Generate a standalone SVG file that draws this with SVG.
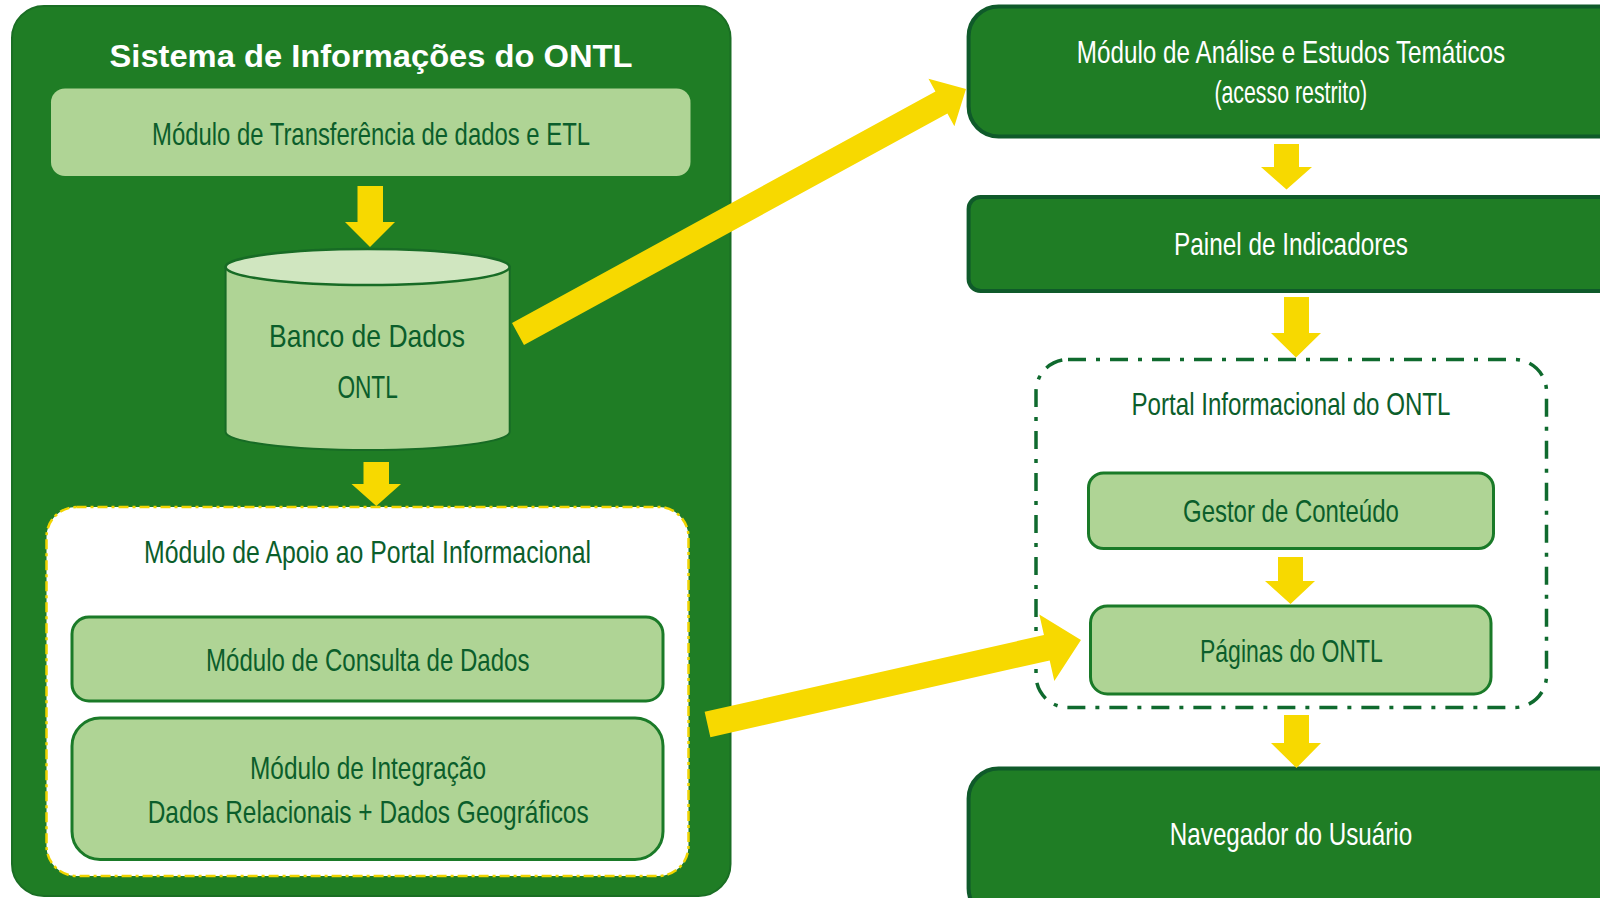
<svg xmlns="http://www.w3.org/2000/svg" width="1600" height="898" viewBox="0 0 1600 898">
<style>
text{font-family:"Liberation Sans",Arial,sans-serif;font-size:32px}
.dk{fill:#0b5e2b}
.wt{fill:#ffffff}
.light{fill:#afd495;stroke:#1a7a28;stroke-width:3}
.dark{fill:#1f7d25;stroke:#0f5a2a;stroke-width:4}
.arrow{fill:#f7d900}
</style>
<rect width="1600" height="898" fill="#ffffff"/>

<g id="sistema">
<rect x="12" y="6" width="718.5" height="890" rx="32" fill="#1f7d25" stroke="#1a6e24" stroke-width="2"/>
<text class="wt" x="109.5" y="66.5" font-size="38" font-weight="bold" textLength="523" lengthAdjust="spacingAndGlyphs">Sistema de Informações do ONTL</text>
</g>

<g id="etl">
<rect x="51" y="88.5" width="639.5" height="87.5" rx="14" fill="#afd495"/>
<text class="dk" x="152" y="145" textLength="438" lengthAdjust="spacingAndGlyphs">Módulo de Transferência de dados e ETL</text>
</g>

<g id="banco">
<path d="M225.6,267 L225.6,432 A142,18 0 0 0 509.7,432 L509.7,267 Z" fill="#afd495" stroke="#176b25" stroke-width="2"/>
<ellipse cx="367.6" cy="267" rx="142" ry="18" fill="#d0e6c0" stroke="#176b25" stroke-width="2.5"/>
<text class="dk" x="269" y="346.7" font-size="35" textLength="196" lengthAdjust="spacingAndGlyphs">Banco de Dados</text>
<text class="dk" x="337.4" y="398.3" font-size="35" textLength="60.4" lengthAdjust="spacingAndGlyphs">ONTL</text>
</g>

<g id="apoio">
<rect x="46.5" y="507" width="642" height="369" rx="30" fill="#ffffff" stroke="#f0d400" stroke-width="2.5" stroke-dasharray="10 4 3 4"/>
<text class="dk" x="144" y="562.7" textLength="447" lengthAdjust="spacingAndGlyphs">Módulo de Apoio ao Portal Informacional</text>
</g>

<g id="consulta">
<rect class="light" x="72" y="617" width="591" height="84" rx="17"/>
<text class="dk" x="206" y="670.7" textLength="323.5" lengthAdjust="spacingAndGlyphs">Módulo de Consulta de Dados</text>
</g>

<g id="integracao">
<rect class="light" x="72" y="718" width="591" height="141.5" rx="28"/>
<text class="dk" x="250" y="779" textLength="236" lengthAdjust="spacingAndGlyphs">Módulo de Integração</text>
<text class="dk" x="147.7" y="823.3" textLength="441" lengthAdjust="spacingAndGlyphs">Dados Relacionais + Dados Geográficos</text>
</g>

<g id="analise">
<rect class="dark" x="968.6" y="6.5" width="660" height="130" rx="30"/>
<text class="wt" x="1076.8" y="63.3" textLength="428.4" lengthAdjust="spacingAndGlyphs">Módulo de Análise e Estudos Temáticos</text>
<text class="wt" x="1214.4" y="103.3" font-size="26" textLength="152.8" lengthAdjust="spacingAndGlyphs">(acesso restrito)</text>
</g>

<g id="painel">
<rect class="dark" x="968.6" y="197" width="660" height="94" rx="12"/>
<text class="wt" x="1174" y="255" textLength="234" lengthAdjust="spacingAndGlyphs">Painel de Indicadores</text>
</g>

<g id="portal">
<rect x="1036" y="359.5" width="510.5" height="348" rx="32" fill="none" stroke="#0f6a2e" stroke-width="3.5" stroke-dasharray="18 10 4 10"/>
<text class="dk" x="1131.5" y="414.6" textLength="319" lengthAdjust="spacingAndGlyphs">Portal Informacional do ONTL</text>
</g>

<g id="gestor">
<rect class="light" x="1088.5" y="473" width="405" height="75.5" rx="15"/>
<text class="dk" x="1183" y="522" textLength="215.8" lengthAdjust="spacingAndGlyphs">Gestor de Conteúdo</text>
</g>

<g id="paginas">
<rect class="light" x="1090.5" y="606" width="400.5" height="88" rx="17"/>
<text class="dk" x="1200" y="661.5" textLength="182.7" lengthAdjust="spacingAndGlyphs">Páginas do ONTL</text>
</g>

<g id="navegador">
<rect class="dark" x="968.6" y="768.5" width="660" height="150" rx="30"/>
<text class="wt" x="1169.8" y="845" textLength="242.4" lengthAdjust="spacingAndGlyphs">Navegador do Usuário</text>
</g>

<g id="connectors">
<polygon class="arrow" points="357.5,186 383,186 383,222 395,222 370,247 345,222 357.5,222"/>
<polygon class="arrow" points="363.5,462 389,462 389,484 401,484 376.3,506 351.5,484 363.5,484"/>
<polygon class="arrow" points="1274,144 1299,144 1299,167 1312,167 1286.5,189.5 1261,167 1274,167"/>
<polygon class="arrow" points="1284,297 1309,297 1309,333 1321,333 1296,357.5 1271,333 1284,333"/>
<polygon class="arrow" points="1278,557 1303,557 1303,581 1315,581 1290.5,604 1265,581 1278,581"/>
<polygon class="arrow" points="1284,715 1309,715 1309,743 1321,743 1296.5,768 1271,743 1284,743"/>
<polygon class="arrow" transform="translate(518 334) rotate(-28.67)" points="0,-12.5 482.6,-12.5 482.6,-27 510.6,0 482.6,27 482.6,12.5 0,12.5"/>
<polygon class="arrow" transform="translate(707.5 724.5) rotate(-12.75)" points="0,-13 347.9,-13 347.9,-34 382.9,0 347.9,34 347.9,13 0,13"/>
</g>
</svg>
